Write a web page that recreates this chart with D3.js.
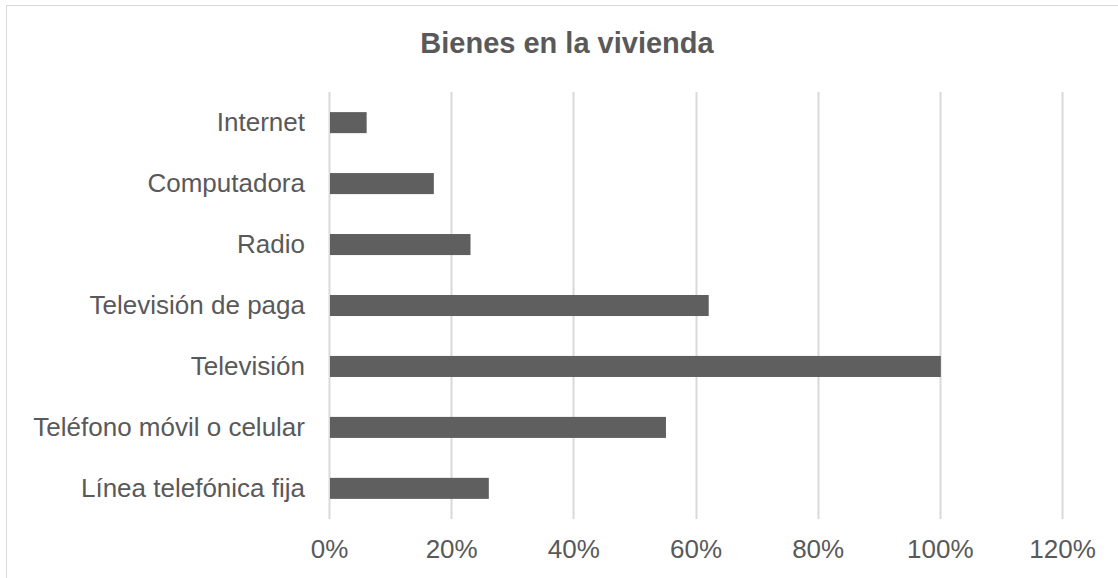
<!DOCTYPE html>
<html><head><meta charset="utf-8">
<script src="https://cdn.jsdelivr.net/npm/d3@7"></script>
<style>body{margin:0;background:#fff}svg{display:block}text{font-family:"Liberation Sans",Arial,sans-serif}</style>
</head><body><svg id="c" width="1118" height="578"></svg>
<script>
const categories = ["Internet","Computadora","Radio","Televisión de paga","Televisión","Teléfono móvil o celular","Línea telefónica fija"];
const values = [0.06,0.17,0.23,0.62,1.00,0.55,0.26];
const ticks = [0,0.2,0.4,0.6,0.8,1.0,1.2];
const title = "Bienes en la vivienda";

const svg = d3.select("#c");
svg.append("rect").attr("x",6.5).attr("y",5.5).attr("width",1120).attr("height",590)
  .attr("fill","#fff").attr("stroke","#d9d9d9").attr("stroke-width",1);

const m = {l:329, r:1062, t:92, b:519};
const x = d3.scaleLinear().domain([0,1.2]).range([m.l,m.r]);
const y = d3.scaleBand().domain(categories).range([m.t,m.b]).paddingInner(0.655).paddingOuter(0.33);

svg.append("g").selectAll("line").data(ticks).join("line")
  .attr("x1",d=>Math.round(x(d))+0.5).attr("x2",d=>Math.round(x(d))+0.5)
  .attr("y1",m.t).attr("y2",m.b).attr("stroke","#d9d9d9").attr("stroke-width",2);

svg.append("g").selectAll("rect").data(values).join("rect")
  .attr("x",x(0)+1).attr("y",(d,i)=>y(categories[i]))
  .attr("width",d=>x(d)-x(0)).attr("height",y.bandwidth())
  .attr("fill","#5f5f5f");

const xa = d3.axisBottom(x).tickValues(ticks).tickFormat(d3.format(".0%")).tickSize(0);
const gx = svg.append("g").attr("transform",`translate(0,${m.b})`).call(xa);
gx.select(".domain").remove();
gx.selectAll("text").attr("font-size",26).attr("fill","#595959").attr("y",39).attr("dy",0).style("font-family",'"Liberation Sans",Arial,sans-serif');

const ya = d3.axisLeft(y).tickSize(0).tickPadding(24);
const gy = svg.append("g").attr("transform",`translate(${m.l},0)`).call(ya);
gy.select(".domain").remove();
gy.selectAll("text").attr("font-size",26).attr("fill","#595959").style("font-family",'"Liberation Sans",Arial,sans-serif');

svg.append("text").attr("x",567).attr("y",53).attr("text-anchor","middle")
  .attr("font-size",29).attr("font-weight","bold").attr("fill","#595959").text(title);
</script></body></html>
